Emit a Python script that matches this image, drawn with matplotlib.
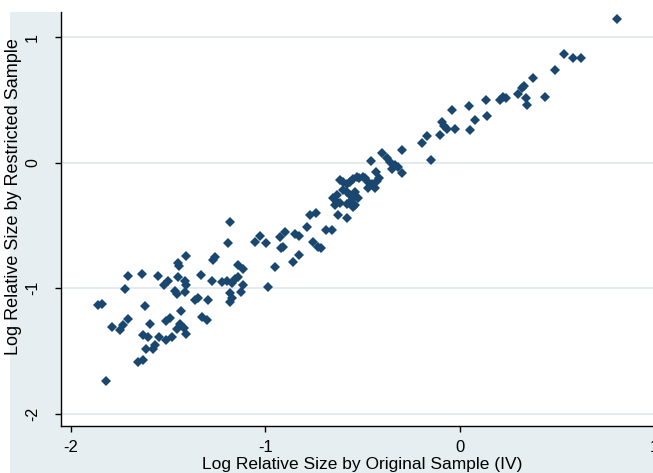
import numpy as np
import matplotlib.pyplot as plt
from matplotlib.patches import Rectangle

plt.rcParams['font.family'] = ['Liberation Sans', 'DejaVu Sans']

# log relative size, original sample (IV) vs restricted sample
x_orig = np.array([
    -1.819, -1.859, -1.840, -1.787, -1.747, -1.730, -1.707, -1.721, -1.707, -1.632,
    -1.553, -1.618, -1.590, -1.627, -1.604, -1.546, -1.508, -1.567, -1.576, -1.613,
    -1.656, -1.627, -1.519, -1.502, -1.450, -1.450, -1.443, -1.407, -1.413, -1.407,
    -1.464, -1.451, -1.410, -1.361, -1.344, -1.328, -1.296, -1.431, -1.508, -1.490,
    -1.438, -1.453, -1.418, -1.407, -1.479, -1.325, -1.299,
    -1.190, -1.258, -1.267, -1.271, -1.220, -1.194, -1.173, -1.155, -1.142, -1.138,
    -1.112, -1.114, -1.124, -1.181, -1.173, -1.181, -1.181, -1.052, -1.027, -0.998,
    -0.950, -0.984, -0.924, -0.899, -0.916, -0.908, -0.847, -0.825, -0.856, -0.825,
    -0.787, -0.772, -0.741,
    -0.753, -0.727, -0.715, -0.687, -0.658, -0.627, -0.581, -0.633, -0.650, -0.633,
    -0.641, -0.616, -0.581, -0.564, -0.538, -0.547, -0.598, -0.581, -0.564, -0.538,
    -0.547, -0.521, -0.616, -0.598, -0.581, -0.564, -0.547, -0.530, -0.516, -0.499,
    -0.487, -0.470, -0.452, -0.470, -0.436, -0.430, -0.413, -0.423, -0.456, -0.401,
    -0.375, -0.358, -0.332, -0.349, -0.318, -0.298, -0.298, -0.195, -0.170, -0.147,
    -0.101, -0.092, -0.078, -0.065, -0.024, -0.041, 0.046, 0.077, 0.053, 0.136,
    0.139, 0.206, 0.223, 0.237, 0.299, 0.320, 0.332, 0.342, 0.349, 0.376,
    0.441, 0.491, 0.539, 0.582, 0.625, 0.811,
])
y_restr = np.array([
    -1.734, -1.135, -1.121, -1.308, -1.332, -1.292, -1.248, -1.002, -0.898, -0.886,
    -0.900, -1.137, -1.280, -1.368, -1.384, -1.388, -1.412, -1.451, -1.479, -1.483,
    -1.587, -1.571, -0.974, -0.938, -0.908, -0.801, -0.826, -0.739, -0.938, -0.974,
    -1.018, -1.049, -1.029, -1.093, -1.073, -0.896, -1.089, -1.183, -1.264, -1.236,
    -1.280, -1.324, -1.316, -1.360, -1.385, -1.229, -1.256,
    -0.642, -0.751, -0.771, -0.942, -0.946, -0.938, -0.958, -0.926, -0.910, -0.818,
    -0.846, -0.974, -1.027, -1.037, -1.073, -1.105, -0.470, -0.629, -0.581, -0.642,
    -0.830, -0.990, -0.589, -0.554, -0.682, -0.667, -0.568, -0.581, -0.788, -0.735,
    -0.508, -0.416, -0.400,
    -0.629, -0.669, -0.682, -0.536, -0.536, -0.416, -0.438, -0.257, -0.283, -0.311,
    -0.337, -0.323, -0.331, -0.311, -0.337, -0.350, -0.217, -0.231, -0.257, -0.231,
    -0.283, -0.279, -0.138, -0.151, -0.172, -0.156, -0.132, -0.111, -0.124, -0.111,
    -0.124, -0.151, -0.172, -0.199, -0.204, -0.072, -0.124, -0.146, 0.014, 0.075,
    0.035, 0.006, -0.018, -0.046, -0.032, -0.080, 0.101, 0.154, 0.209, 0.021,
    0.217, 0.326, 0.292, 0.268, 0.272, 0.420, 0.449, 0.340, 0.264, 0.499,
    0.372, 0.499, 0.521, 0.513, 0.545, 0.592, 0.611, 0.513, 0.459, 0.677,
    0.521, 0.738, 0.863, 0.831, 0.836, 1.142,
])

ticks = [-2, -1, 0, 1]

fig = plt.figure(figsize=(6.53, 4.73), dpi=100, facecolor='white')
# graph region (light bluish) behind the plot region
fig.patches.append(Rectangle((10 / 653, 0), 1, 1 - 12 / 473, transform=fig.transFigure,
                             facecolor='#e7eef2', edgecolor='none', zorder=-10))

ax = fig.add_axes([61 / 653, 47 / 473, 595 / 653, 414 / 473])
ax.set_zorder(1)
ax.set_facecolor('white')

ax.plot(x_orig, y_restr, linestyle='none', marker='D', markersize=4.8,
        markeredgewidth=0, color='#1a476f', zorder=3)

ax.set_xlim(-2.050, 1.010)
ax.set_ylim(-2.096, 1.200)
ax.set_xticks(ticks)
ax.set_yticks(ticks)
ax.set_xticklabels([str(t) for t in ticks], fontsize=12)
ax.set_yticklabels([str(t) for t in ticks], fontsize=11.5, rotation=90, va='center')
ax.tick_params(axis='both', length=4, width=1, color='black')
ax.tick_params(axis='x', pad=6)
ax.tick_params(axis='y', pad=11)

ax.grid(axis='y', color='#e0e9ef', linewidth=1.3)
ax.set_axisbelow(True)
for side in ['top', 'right']:
    ax.spines[side].set_visible(False)
for side in ['left', 'bottom']:
    ax.spines[side].set_linewidth(1.0)
    ax.spines[side].set_color('black')

ax.set_xlabel('Log Relative Size by Original Sample (IV)', fontsize=12.5)
ax.set_ylabel('Log Relative Size by Restricted Sample', fontsize=13)
ax.xaxis.set_label_coords(0.506, -0.074)
ax.yaxis.set_label_coords(-0.066, 0.553)

fig.savefig('out.png', dpi=100, facecolor='white')
